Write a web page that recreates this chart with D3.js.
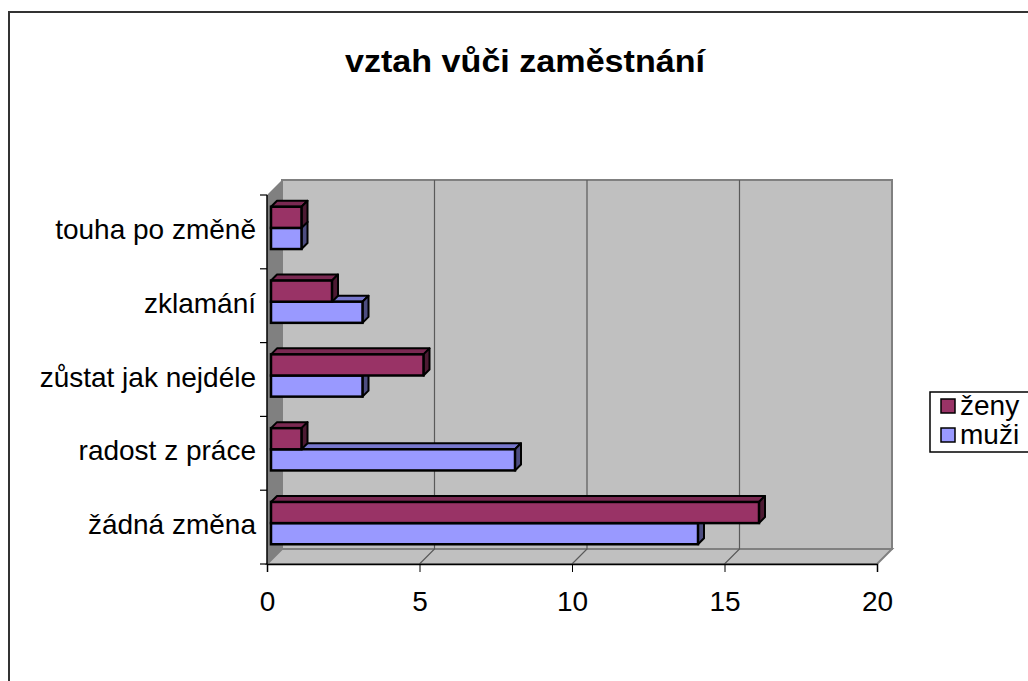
<!DOCTYPE html>
<html>
<head>
<meta charset="utf-8">
<script src="https://cdnjs.cloudflare.com/ajax/libs/d3/7.8.5/d3.min.js"></script>
<style>
  body { margin: 0; background: #fff; }
  svg { display: block; font-family: "Liberation Sans", Arial, sans-serif; }
</style>
</head>
<body>
<svg width="1028" height="681"></svg>
<script>
// data
var categories = ["touha po změně", "zklamání", "zůstat jak nejdéle", "radost z práce", "žádná změna"];
var seriesNames = ["ženy", "muži"];
var zeny = [1, 2, 5, 1, 16];
var muzi = [1, 3, 3, 8, 14];
var xTicks = [0, 5, 10, 15, 20];

var colors = {
    "ženy": { front: "#993366", top: "#7a2952", side: "#4d1a33" },
    "muži": { front: "#9999ff", top: "#7777cc", side: "#4d4d80" }
};

var svg = d3.select("svg");

// outer chart frame (runs past the window on the right and bottom)
svg.append("rect")
    .attr("x", 9).attr("y", 12)
    .attr("width", 1200).attr("height", 900)
    .attr("fill", "none")
    .attr("stroke", "#333").attr("stroke-width", 2);

// 3d geometry
var depth = 15;          // wall depth offset (x right, y up)
var barD0 = 4, barD1 = 10; // bar front/back depth

var x = d3.scaleLinear().domain([0, 20]).range([267, 877]);
var y = d3.scaleBand().domain(categories).range([195, 564]);
var ySub = d3.scaleBand().domain(seriesNames).range([0, y.step()]).paddingOuter(0.745);

var g = svg.append("g");

// left wall
g.append("polygon")
    .attr("points", [[x(0), y.range()[0]], [x(0) + depth, y.range()[0] - depth],
                     [x(0) + depth, y.range()[1] - depth], [x(0), y.range()[1]]].join(" "))
    .attr("fill", "#808080");

// floor
g.append("polygon")
    .attr("points", [[x(0), y.range()[1]], [x(0) + depth, y.range()[1] - depth],
                     [x(20) + depth, y.range()[1] - depth], [x(20), y.range()[1]]].join(" "))
    .attr("fill", "#c0c0c0")
    .attr("stroke", "#808080").attr("stroke-width", 2);

// back wall
g.append("rect")
    .attr("x", x(0) + depth).attr("y", y.range()[0] - depth)
    .attr("width", x(20) - x(0)).attr("height", y.range()[1] - y.range()[0])
    .attr("fill", "#c0c0c0")
    .attr("stroke", "#808080").attr("stroke-width", 2);

// gridlines on back wall and floor
g.selectAll(".grid")
    .data(xTicks.slice(1, -1))
    .enter().append("path")
    .attr("class", "grid")
    .attr("d", function(d) {
        return "M" + x(d) + "," + y.range()[1] +
               "L" + (x(d) + depth) + "," + (y.range()[1] - depth) +
               "L" + (x(d) + depth) + "," + (y.range()[0] - depth);
    })
    .attr("fill", "none")
    .attr("stroke", "#5a5a5a").attr("stroke-width", 1.2);

// bars
var data = [];
categories.forEach(function(c, i) {
    data.push({ cat: c, s: "muži", v: muzi[i] });
    data.push({ cat: c, s: "ženy", v: zeny[i] });
});

var bars = g.selectAll(".bar")
    .data(data)
    .enter().append("g")
    .attr("class", "bar");

var bw = ySub.bandwidth();
var bd = barD1 - barD0;

function x0(d) { return x(0) + barD0; }
function x1(d) { return x(d.v) + barD0; }
function yTop(d) { return y(d.cat) + ySub(d.s) - barD0; }

bars.append("polygon")
    .attr("points", function(d) {
        var a = x0(d), b = x1(d), t = yTop(d);
        return [[a, t], [a + bd, t - bd], [b + bd, t - bd], [b, t]].join(" ");
    })
    .attr("fill", function(d) { return colors[d.s].top; })
    .attr("stroke", "#000").attr("stroke-width", 2).attr("stroke-linejoin", "round");

bars.append("polygon")
    .attr("points", function(d) {
        var b = x1(d), t = yTop(d);
        return [[b, t], [b + bd, t - bd], [b + bd, t + bw - bd], [b, t + bw]].join(" ");
    })
    .attr("fill", function(d) { return colors[d.s].side; })
    .attr("stroke", "#000").attr("stroke-width", 2).attr("stroke-linejoin", "round");

bars.append("rect")
    .attr("x", x0)
    .attr("y", yTop)
    .attr("width", function(d) { return x1(d) - x0(d); })
    .attr("height", bw)
    .attr("fill", function(d) { return colors[d.s].front; })
    .attr("stroke", "#000").attr("stroke-width", 2.5);

// value axis
var xAxis = g.append("g").attr("transform", "translate(0," + y.range()[1] + ")")
    .call(d3.axisBottom(x).tickValues(xTicks).tickSize(8).tickPadding(19));
xAxis.select(".domain").attr("stroke", "#000").attr("stroke-width", 1.5);
xAxis.selectAll(".tick line").attr("stroke", "#000");
xAxis.selectAll("text")
    .attr("font-size", 28)
    .attr("font-family", "Liberation Sans, Arial, sans-serif")
    .attr("fill", "#000");

// category axis
g.append("line")
    .attr("x1", x(0)).attr("x2", x(0))
    .attr("y1", y.range()[0]).attr("y2", y.range()[1])
    .attr("stroke", "#000").attr("stroke-width", 1.5);

var catTicks = categories.map(function(c) { return y(c); }).concat([y.range()[1]]);
g.selectAll(".ctick")
    .data(catTicks)
    .enter().append("line")
    .attr("x1", x(0) - 7).attr("x2", x(0))
    .attr("y1", function(d) { return d; }).attr("y2", function(d) { return d; })
    .attr("stroke", "#000").attr("stroke-width", 1.2);

g.selectAll(".clabel")
    .data(categories)
    .enter().append("text")
    .attr("x", 256)
    .attr("y", function(d) { return y(d) + y.step() / 2 + 7; })
    .attr("text-anchor", "end")
    .attr("font-size", 28)
    .text(function(d) { return d; });

// title
svg.append("text")
    .attr("x", 525).attr("y", 72)
    .attr("text-anchor", "middle")
    .attr("font-size", 31)
    .attr("font-weight", "bold")
    .attr("textLength", 360)
    .attr("lengthAdjust", "spacingAndGlyphs")
    .text("vztah vůči zaměstnání");

// legend
var legend = svg.append("g");
legend.append("rect")
    .attr("x", 930).attr("y", 392)
    .attr("width", 200).attr("height", 60)
    .attr("fill", "#fff")
    .attr("stroke", "#000").attr("stroke-width", 1.5);

var items = legend.selectAll(".item")
    .data(seriesNames)
    .enter().append("g")
    .attr("transform", function(d, i) { return "translate(941," + (399 + i * 29) + ")"; });

items.append("rect")
    .attr("width", 14).attr("height", 14)
    .attr("fill", function(d) { return colors[d].front; })
    .attr("stroke", "#000").attr("stroke-width", 1.5);

items.append("text")
    .attr("x", 19).attr("y", 16)
    .attr("font-size", 28)
    .text(function(d) { return d; });
</script>
</body>
</html>
